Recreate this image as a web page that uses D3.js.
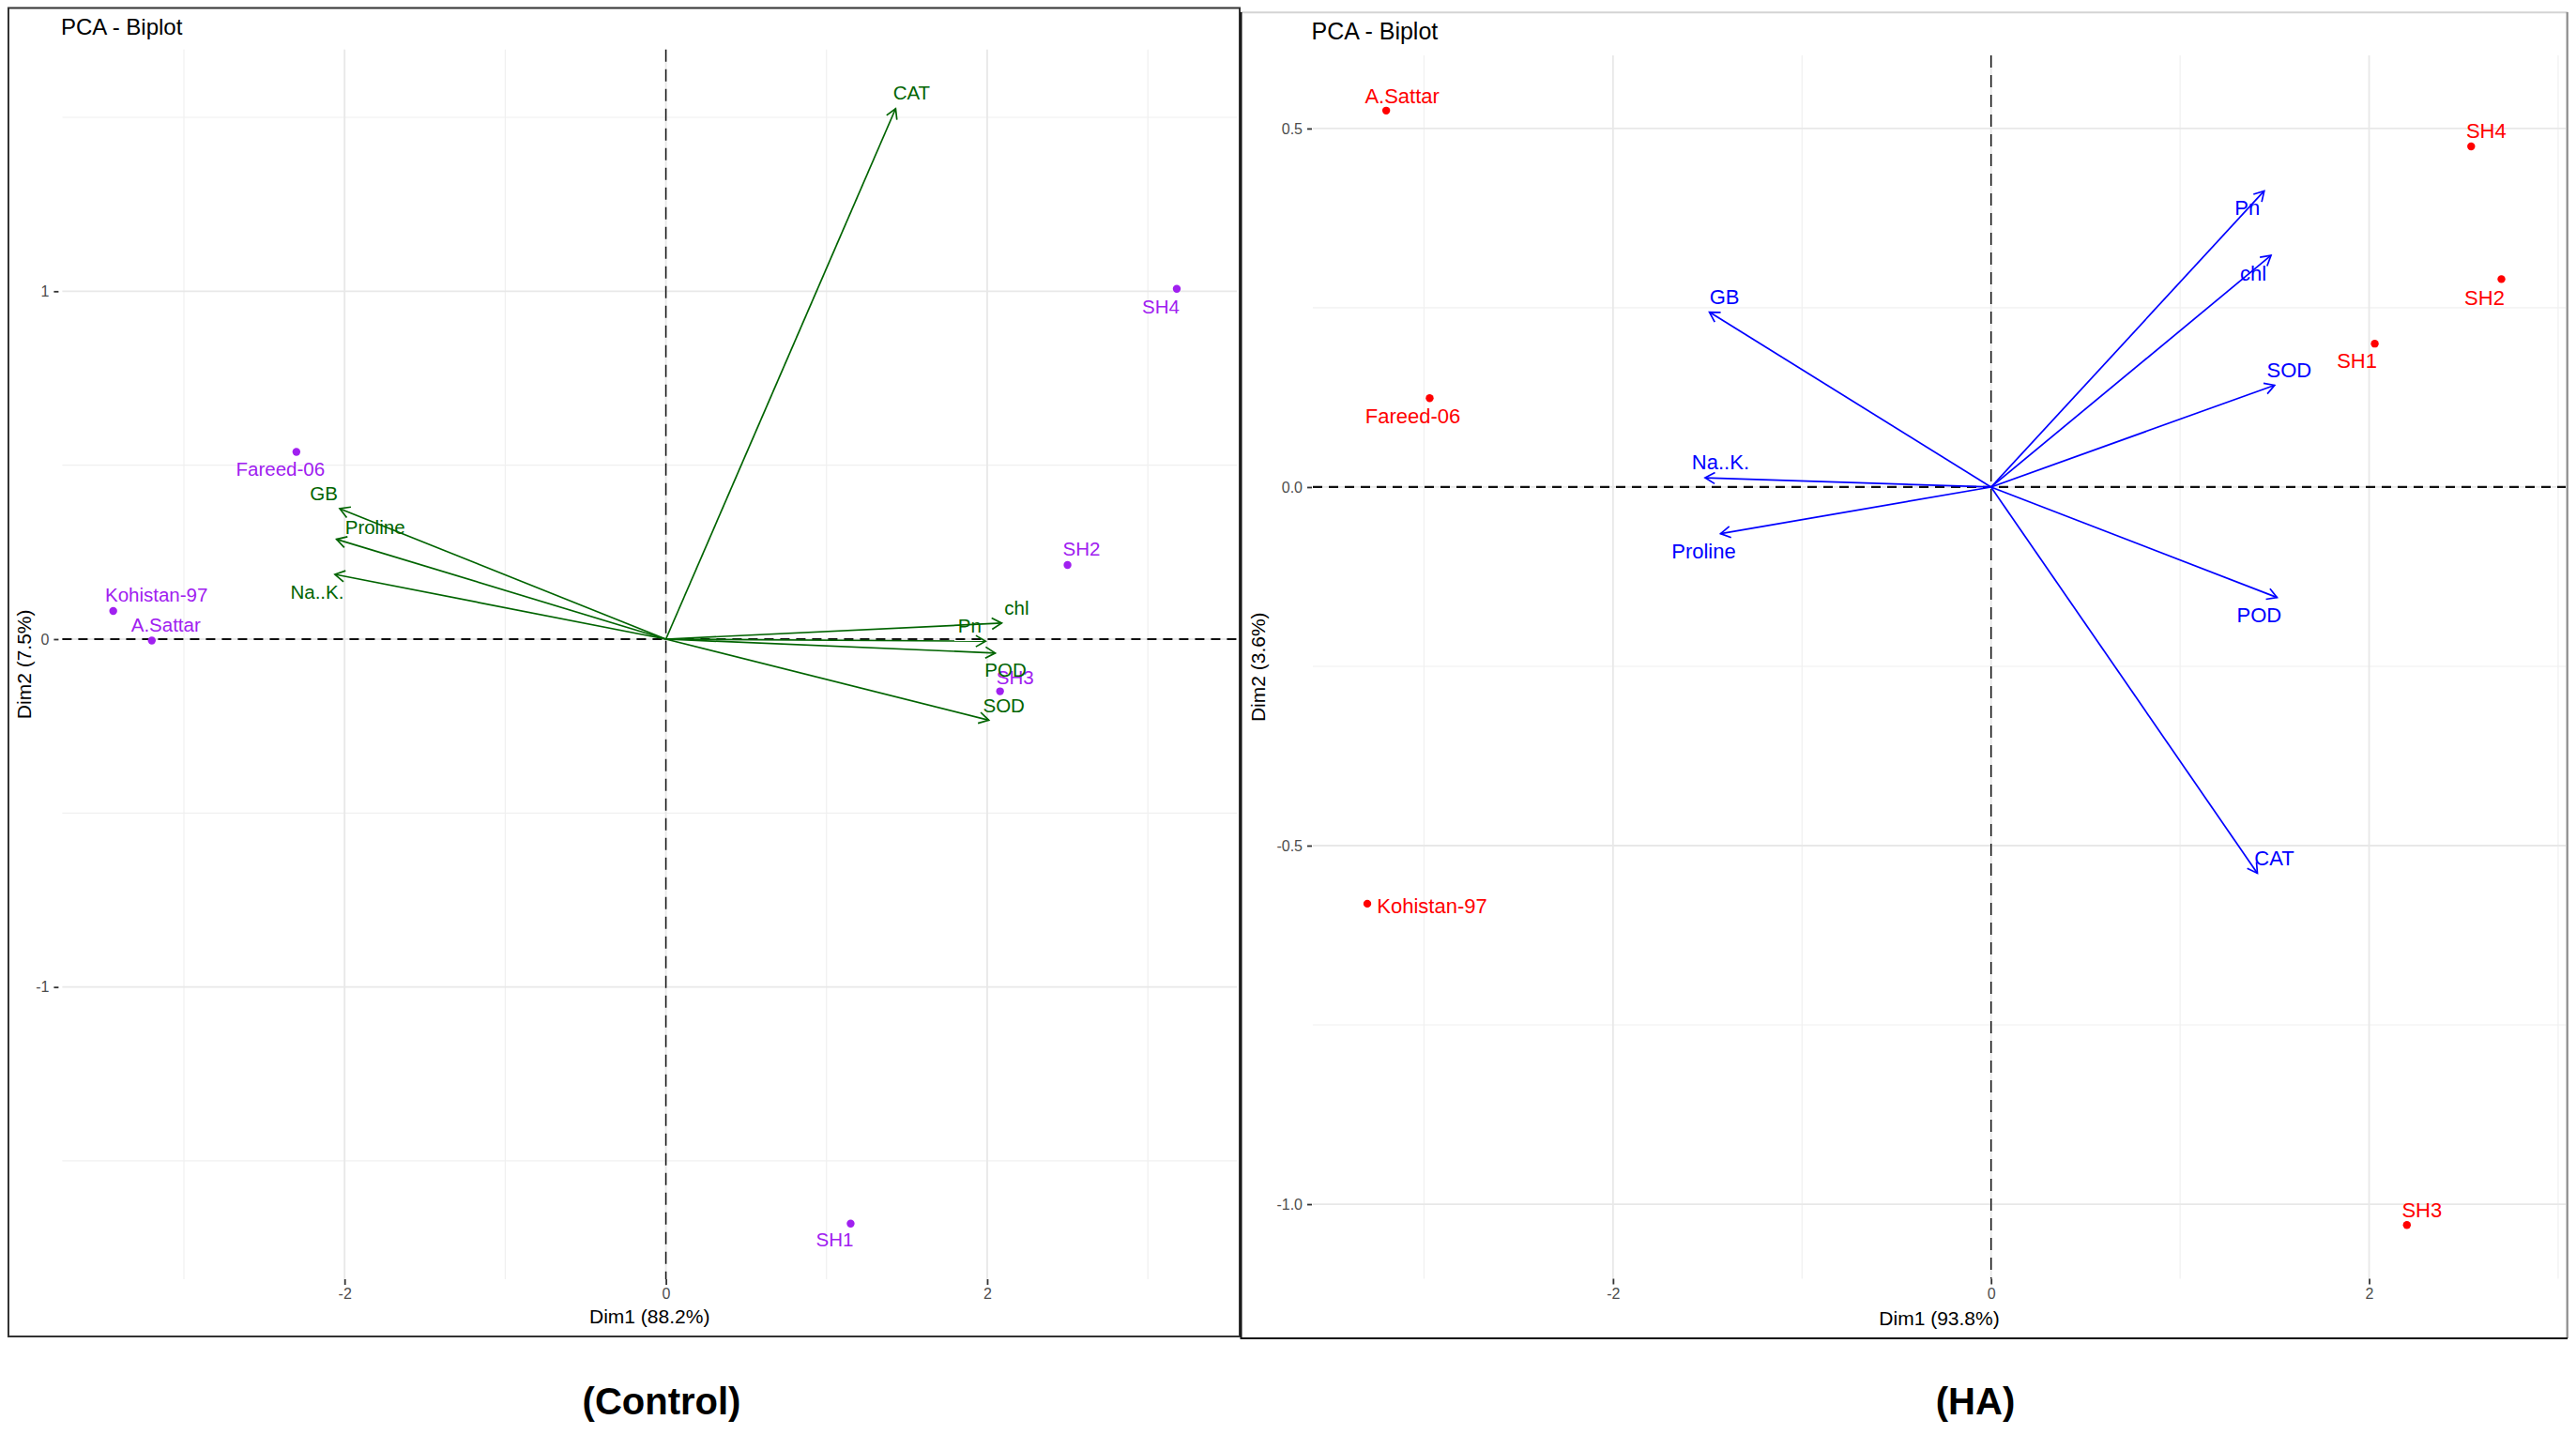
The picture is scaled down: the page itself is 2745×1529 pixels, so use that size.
<!DOCTYPE html>
<html><head><meta charset="utf-8">
<script src="https://cdn.jsdelivr.net/npm/d3@7"></script>
<style>
html,body{margin:0;padding:0;background:#fff;}
svg{display:block;}
text{font-family:"Liberation Sans",Arial,sans-serif;}
</style></head><body>
<svg id="chart" width="2745" height="1529"></svg>
<script>
// ---------------- data ----------------
const controlIndividuals = ["SH4","Fareed-06","Kohistan-97","A.Sattar","SH2","SH3","SH1"];
const controlIndDim1 = [3.18,-2.30,-3.44,-3.20,2.50,2.08,1.15];
const controlIndDim2 = [1.007,0.538,0.081,-0.004,0.213,-0.150,-1.680];
const controlVariables = ["CAT","GB","Proline","Na..K.","chl","Pn","POD","SOD"];
const controlVarDim1 = [1.43,-2.03,-2.05,-2.06,2.09,1.99,2.05,2.01];
const controlVarDim2 = [1.525,0.375,0.287,0.186,0.046,-0.006,-0.040,-0.233];

const haIndividuals = ["A.Sattar","SH4","SH2","SH1","Fareed-06","Kohistan-97","SH3"];
const haIndDim1 = [-3.20,2.54,2.70,2.03,-2.97,-3.30,2.20];
const haIndDim2 = [0.525,0.475,0.290,0.200,0.124,-0.581,-1.029];
const haVariables = ["Pn","chl","SOD","GB","Na..K.","Proline","POD","CAT"];
const haVarDim1 = [1.445,1.481,1.50,-1.49,-1.513,-1.431,1.513,1.409];
const haVarDim2 = [0.413,0.323,0.142,0.244,0.013,-0.065,-0.154,-0.5385];

const controlXTicks = [-2,0,2];
const controlYTicks = [-1,0,1];
const haXTicks = [-2,0,2];
const haYTicks = [-1,-0.5,0,0.5];
const controlAxisTitles = ["Dim1 (88.2%)","Dim2 (7.5%)"];
const haAxisTitles = ["Dim1 (93.8%)","Dim2 (3.6%)"];
const plotTitle = "PCA - Biplot";
const panelCaptions = ["(Control)","(HA)"];

// ---------------- layout (positions / styles) ----------------
const panels = [
  {
    plot:{x0:66.4,x1:1318,y0:52.7,y1:1363},
    xDomain:[-3.757,3.554], yDomain:[-1.84,1.695],
    title:{x:65,y:37.3,size:24},
    xTitleY:1410, yTitleX:25, labelSize:20.5, varSize:20.5,
    indColor:"#A020F0", varColor:"#006400",
    ind:{names:controlIndividuals,d1:controlIndDim1,d2:controlIndDim2},
    vars:{names:controlVariables,d1:controlVarDim1,d2:controlVarDim2},
    xTicks:controlXTicks, yTicks:controlYTicks, fmt:v=>String(v),
    titles:controlAxisTitles, caption:panelCaptions[0], captionX:705,
    indOff:{"SH4":[-17,19],"Fareed-06":[-17,18.5],"Kohistan-97":[46,-17],"A.Sattar":[15,-17],"SH2":[15,-17],"SH3":[16,-15],"SH1":[-17,17]},
    varOff:{"CAT":[17,-17],"GB":[-17,-16],"Proline":[41,-13],"Na..K.":[-19,18.5],"chl":[16,-16],"Pn":[-17,-17],"POD":[11,18],"SOD":[16,-16]}
  },
  {
    plot:{x0:1399,x1:2734,y0:59,y1:1362.5},
    xDomain:[-3.588,3.04], yDomain:[-1.104,0.602],
    title:{x:1397.5,y:41.5,size:25},
    xTitleY:1412, yTitleX:1340, labelSize:22, varSize:22,
    indColor:"#FF0000", varColor:"#0000FF",
    ind:{names:haIndividuals,d1:haIndDim1,d2:haIndDim2},
    vars:{names:haVariables,d1:haVarDim1,d2:haVarDim2},
    xTicks:haXTicks, yTicks:haYTicks, fmt:v=>v.toFixed(1),
    titles:haAxisTitles, caption:panelCaptions[1], captionX:2105,
    indOff:{"A.Sattar":[17,-16],"SH4":[16,-16.5],"SH2":[-18,19.4],"SH1":[-19,18.4],"Fareed-06":[-18,19],"Kohistan-97":[69,2],"SH3":[16,-16]},
    varOff:{"Pn":[-18,18],"chl":[-19,19.4],"SOD":[15.5,-16.5],"GB":[16,-16],"Na..K.":[16.5,-16.5],"Proline":[-18,18.4],"POD":[-19,18],"CAT":[18,-16.7]}
  }
];

const svg = d3.select("#chart");
svg.append("rect").attr("width",2745).attr("height",1529).attr("fill","#fff");

// frames
svg.append("rect").attr("x",9).attr("y",8.5).attr("width",1312).attr("height",1415.5)
  .attr("fill","none").attr("stroke","#333").attr("stroke-width",2);
svg.append("line").attr("x1",1322).attr("x2",2736).attr("y1",13.3).attr("y2",13.3).attr("stroke","#d4d4d4").attr("stroke-width",2);
svg.append("line").attr("x1",2735.7).attr("x2",2735.7).attr("y1",13).attr("y2",1426).attr("stroke","#8c8c8c").attr("stroke-width",2.2);
svg.append("line").attr("x1",1322.5).attr("x2",1322.5).attr("y1",13).attr("y2",1427).attr("stroke","#111").attr("stroke-width",2);
svg.append("line").attr("x1",1322).attr("x2",2736).attr("y1",1426).attr("y2",1426).attr("stroke","#111").attr("stroke-width",2);

function arrowHead(x1,y1,x2,y2,len,ang){
  const a=Math.atan2(y2-y1,x2-x1);
  const p1=[x2-len*Math.cos(a-ang), y2-len*Math.sin(a-ang)];
  const p2=[x2-len*Math.cos(a+ang), y2-len*Math.sin(a+ang)];
  return `M${p1[0]},${p1[1]}L${x2},${y2}L${p2[0]},${p2[1]}`;
}

panels.forEach(p=>{
  const x=d3.scaleLinear().domain(p.xDomain).range([p.plot.x0,p.plot.x1]);
  const y=d3.scaleLinear().domain(p.yDomain).range([p.plot.y1,p.plot.y0]);
  const g=svg.append("g");

  // grid
  const xStep=p.xTicks[1]-p.xTicks[0], yStep=p.yTicks[1]-p.yTicks[0];
  const xMinor=d3.range(p.xTicks[0]-xStep*2+xStep/2, p.xDomain[1], xStep).filter(v=>v>p.xDomain[0]&&v<p.xDomain[1]);
  const yMinor=d3.range(p.yTicks[0]-yStep*2+yStep/2, p.yDomain[1], yStep).filter(v=>v>p.yDomain[0]&&v<p.yDomain[1]);
  g.selectAll(".gxm").data(xMinor).join("line").attr("x1",d=>x(d)).attr("x2",d=>x(d))
    .attr("y1",p.plot.y0).attr("y2",p.plot.y1).attr("stroke","#f0f0f0").attr("stroke-width",1.2);
  g.selectAll(".gym").data(yMinor).join("line").attr("y1",d=>y(d)).attr("y2",d=>y(d))
    .attr("x1",p.plot.x0).attr("x2",p.plot.x1).attr("stroke","#f0f0f0").attr("stroke-width",1.2);
  g.selectAll(".gx").data(p.xTicks).join("line").attr("x1",d=>x(d)).attr("x2",d=>x(d))
    .attr("y1",p.plot.y0).attr("y2",p.plot.y1).attr("stroke","#e8e8e8").attr("stroke-width",1.8);
  g.selectAll(".gy").data(p.yTicks).join("line").attr("y1",d=>y(d)).attr("y2",d=>y(d))
    .attr("x1",p.plot.x0).attr("x2",p.plot.x1).attr("stroke","#e8e8e8").attr("stroke-width",1.8);

  // zero lines
  g.append("line").attr("x1",p.plot.x0).attr("x2",p.plot.x1).attr("y1",y(0)).attr("y2",y(0))
    .attr("stroke","#111").attr("stroke-width",2.2).attr("stroke-dasharray","10,7");
  g.append("line").attr("x1",x(0)).attr("x2",x(0)).attr("y1",p.plot.y0).attr("y2",p.plot.y1)
    .attr("stroke","#111").attr("stroke-width",1.5).attr("stroke-dasharray","13,8");

  // arrows
  const vars=p.vars.names.map((n,i)=>({n,d1:p.vars.d1[i],d2:p.vars.d2[i]}));
  const ag=g.append("g").attr("stroke",p.varColor).attr("stroke-width",1.7).attr("fill","none");
  ag.selectAll("line").data(vars).join("line")
    .attr("x1",x(0)).attr("y1",y(0)).attr("x2",d=>x(d.d1)).attr("y2",d=>y(d.d2));
  ag.selectAll("path").data(vars).join("path")
    .attr("d",d=>arrowHead(x(0),y(0),x(d.d1),y(d.d2),12,Math.PI/6));

  // points
  const inds=p.ind.names.map((n,i)=>({n,d1:p.ind.d1[i],d2:p.ind.d2[i]}));
  g.selectAll("circle").data(inds).join("circle")
    .attr("cx",d=>x(d.d1)).attr("cy",d=>y(d.d2)).attr("r",4.2).attr("fill",p.indColor);

  // labels
  g.selectAll(".il").data(inds).join("text").attr("class","il")
    .attr("x",d=>x(d.d1)+p.indOff[d.n][0]).attr("y",d=>y(d.d2)+p.indOff[d.n][1])
    .attr("dy","0.36em").attr("text-anchor","middle").attr("font-size",p.labelSize)
    .attr("fill",p.indColor).text(d=>d.n);
  g.selectAll(".vl").data(vars).join("text").attr("class","vl")
    .attr("x",d=>x(d.d1)+p.varOff[d.n][0]).attr("y",d=>y(d.d2)+p.varOff[d.n][1])
    .attr("dy","0.36em").attr("text-anchor","middle").attr("font-size",p.varSize)
    .attr("fill",p.varColor).text(d=>d.n);

  // axes
  const xa=g.append("g").attr("transform",`translate(0,${p.plot.y1})`)
    .call(d3.axisBottom(x).tickValues(p.xTicks).tickFormat(p.fmt===undefined?null:(v=>String(v))).tickSize(6).tickPadding(4));
  const ya=g.append("g").attr("transform",`translate(${p.plot.x0 - (p===panels[0]?4:1)},0)`)
    .call(d3.axisLeft(y).tickValues(p.yTicks).tickFormat(p.fmt).tickSize(5).tickPadding(5));
  [xa,ya].forEach(a=>{
    a.select(".domain").remove();
    a.selectAll(".tick line").attr("stroke","#333").attr("stroke-width",1.8);
    a.selectAll(".tick text").attr("fill","#4d4d4d").attr("font-size",16)
      .attr("font-family","'Liberation Sans',Arial,sans-serif");
  });

  // axis titles
  g.append("text").attr("x",(p.plot.x0+p.plot.x1)/2).attr("y",p.xTitleY).attr("text-anchor","middle")
    .attr("font-size",21).attr("fill","#000").text(p.titles[0]);
  g.append("text").attr("transform",`translate(${p.yTitleX},${(p.plot.y0+p.plot.y1)/2}) rotate(-90)`)
    .attr("dy","0.36em").attr("text-anchor","middle").attr("font-size",21).attr("fill","#000").text(p.titles[1]);

  // plot title
  g.append("text").attr("x",p.title.x).attr("y",p.title.y).attr("font-size",p.title.size)
    .attr("fill","#000").text(plotTitle);

  // caption
  g.append("text").attr("x",p.captionX).attr("y",1507).attr("text-anchor","middle")
    .attr("font-size",40).attr("font-weight","bold").attr("fill","#000").text(p.caption);
});
</script>
</body></html>
